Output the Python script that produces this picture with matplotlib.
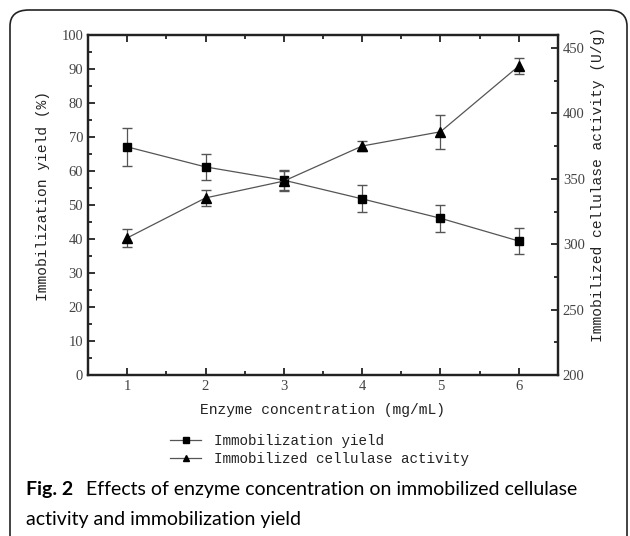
import matplotlib.pyplot as plt
from matplotlib.patches import FancyBboxPatch
from matplotlib.lines import Line2D
from matplotlib.ticker import MultipleLocator

conc = [1, 2, 3, 4, 5, 6]
yield_pct = [67.1, 61.2, 57.3, 51.8, 46.1, 39.4]
yield_err = [5.6, 3.8, 3.0, 4.0, 3.9, 3.8]
activity = [304.8, 335.4, 348.3, 375.1, 386.0, 436.3]
activity_err = [7.0, 6.0, 7.5, 4.0, 13.0, 6.0]

mono = 'Liberation Mono'
serif = 'Liberation Serif'
ink = '#222222'

fig = plt.figure(figsize=(6.3, 5.36), dpi=100)
fig.patch.set_facecolor('white')

# rounded frame around the figure
frame = FancyBboxPatch((10 / 630, -0.05), 617 / 630, 1 - 10 / 536 + 0.05,
                       boxstyle='round,pad=0,rounding_size=0.03',
                       transform=fig.transFigure, fill=False,
                       edgecolor=ink, linewidth=1.2)
fig.patches.append(frame)

ax = fig.add_axes([88 / 630, 1 - 375 / 536, 470 / 630, 340 / 536])
ax2 = ax.twinx()

ax.errorbar(conc, yield_pct, yerr=yield_err, color='#555555', marker='s',
            markersize=6, markerfacecolor='black', markeredgecolor='black',
            linewidth=0.9, elinewidth=0.9, capsize=3.5, ecolor='#555555')
ax2.errorbar(conc, activity, yerr=activity_err, color='#555555', marker='^',
             markersize=7.5, markerfacecolor='black', markeredgecolor='black',
             linewidth=0.9, elinewidth=0.9, capsize=3.5, ecolor='#555555')

ax.set_xlim(0.5, 6.5)
ax.set_ylim(0, 100)
ax2.set_ylim(200, 460)

ax.xaxis.set_major_locator(MultipleLocator(1))
ax.xaxis.set_minor_locator(MultipleLocator(0.5))
ax.yaxis.set_major_locator(MultipleLocator(10))
ax.yaxis.set_minor_locator(MultipleLocator(5))
ax2.yaxis.set_major_locator(MultipleLocator(50))
ax2.yaxis.set_minor_locator(MultipleLocator(25))

ax.tick_params(which='both', direction='in', top=True, right=False,
               labelsize=10.5, colors=ink, labelcolor='#444444', width=1.3)
ax2.tick_params(which='both', direction='in', labelsize=10.5,
                colors=ink, labelcolor='#444444', width=1.3)
for a in (ax, ax2):
    a.tick_params(which='major', length=5)
    a.tick_params(which='minor', length=3)
    for lab in a.get_xticklabels() + a.get_yticklabels():
        lab.set_fontfamily(serif)
    for sp in a.spines.values():
        sp.set_linewidth(1.6)
        sp.set_color(ink)

ax.set_xlabel('Enzyme concentration (mg/mL)', family=mono, fontsize=10.5,
              color=ink, labelpad=7)
ax.set_ylabel('Immobilization yield (%)', family=mono, fontsize=10.5,
              color=ink)
ax2.set_ylabel('Immobilized cellulase activity (U/g)', family=mono,
               fontsize=10.5, color=ink)
ax.yaxis.set_label_coords(-0.081, 0.526)
ax2.yaxis.set_label_coords(1.070, 0.559)

handles = [
    Line2D([], [], color='#555555', linewidth=0.9, marker='s', markersize=4,
           markerfacecolor='black', markeredgecolor='black'),
    Line2D([], [], color='#555555', linewidth=0.9, marker='^', markersize=4.5,
           markerfacecolor='black', markeredgecolor='black'),
]
labels = ['Immobilization yield', 'Immobilized cellulase activity']
leg = fig.legend(handles, labels, loc='upper left',
                 bbox_to_anchor=(170 / 630, 1 - 434 / 536), frameon=False,
                 prop={'family': mono, 'size': 10.3}, handlelength=2.2,
                 handletextpad=0.9, labelspacing=0.28, borderpad=0,
                 borderaxespad=0)
for t in leg.get_texts():
    t.set_color(ink)

fig.text(26 / 630, 1 - 489 / 536, 'Fig. 2', family='Lato', weight='bold',
         fontsize=14, va='center', ha='left')
fig.text(86 / 630, 1 - 489 / 536,
         'Effects of enzyme concentration on immobilized cellulase',
         family='Lato', fontsize=14, va='center', ha='left')
fig.text(26 / 630, 1 - 519 / 536, 'activity and immobilization yield',
         family='Lato', fontsize=14, va='center', ha='left')

fig.savefig('out.png', dpi=100)
